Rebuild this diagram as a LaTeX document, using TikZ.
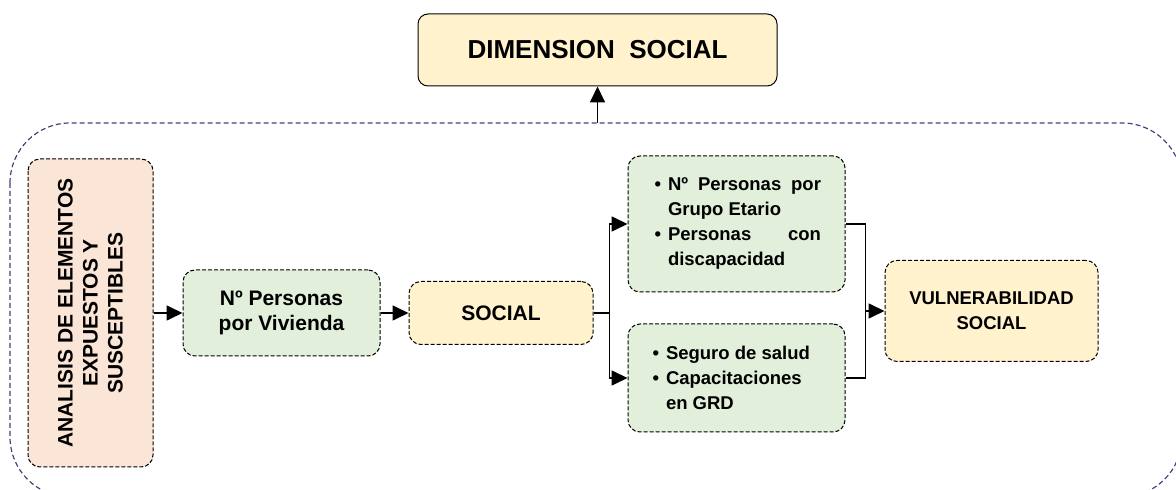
\documentclass[tikz,border=0pt]{standalone}
\usepackage{fontspec}
\setmainfont{Liberation Sans}
\usepackage{tikz}
\usetikzlibrary{positioning, arrows.meta}
\definecolor{boxgreen}{HTML}{E2EFDA}
\definecolor{boxyellow}{HTML}{FFF2CC}
\definecolor{boxsalmon}{HTML}{FBE5D6}
\definecolor{framenavy}{HTML}{44447A}
\newcommand{\itembul}{\leavevmode\llap{\textbullet\hspace{3.5pt}}}

\begin{document}
\begin{tikzpicture}[
	box/.style={rectangle, rounded corners=6pt, draw=black, line width=0.5pt, dash pattern=on 2pt off 1pt, inner sep=0pt, align=center, font=\fontsize{10.5}{12.5}\selectfont\bfseries},
	greenbox/.style={box, fill=boxgreen},
	yellowbox/.style={box, fill=boxyellow},
	listbox/.style={greenbox, minimum width=108.5pt, font=\fontsize{9.25}{12.5}\selectfont\bfseries},
	conn/.style={line width=0.85pt},
	arr/.style={conn, -{Triangle[length=8pt, width=7.5pt]}}]
	\useasboundingbox (0,0) rectangle (588pt,-245pt);
	\coordinate (frameNW) at (5pt,-61.5pt);
	\coordinate (frameSE) at (591pt,-248.5pt);
	\begin{scope}
		\clip (0,0) rectangle (588pt,-245pt);
		\draw[framenavy, line width=0.6pt, dash pattern=on 2.5pt off 1.5pt, rounded corners=30pt] (frameNW) rectangle (frameSE);
	\end{scope}
	\node[box, solid, fill=boxyellow, rounded corners=5pt, minimum width=179.5pt, minimum height=36pt, font=\fontsize{13}{15}\selectfont\bfseries] (dimension) at (298.75pt,-25pt) {DIMENSION\ \ SOCIAL};
	\node[box, fill=boxsalmon, rotate=90, minimum width=154pt, minimum height=62.5pt] (analisis) at (45.25pt,-156.5pt) {ANALISIS DE ELEMENTOS\\EXPUESTOS Y\\SUSCEPTIBLES};
	\node[greenbox, minimum width=98.5pt, minimum height=43pt, right=14.5pt of analisis.south] (vivienda) {Nº Personas\\por Vivienda};
	\node[yellowbox, minimum width=92pt, minimum height=31.5pt, right=14pt of vivienda] (social) {SOCIAL};
	\node[listbox, minimum height=68pt, right=17pt of social, yshift=44.5pt] (grupos) {\begin{minipage}{84.5pt}\leftskip=8pt
		\itembul Nº Personas por\linebreak Grupo Etario\par
		\itembul Personas con\linebreak discapacidad\end{minipage}};
	\node[listbox, minimum height=54pt, right=17pt of social, yshift=-32.5pt] (servicios) {\begin{minipage}{84.5pt}\leftskip=7pt\rightskip=0pt plus 1fil
		\itembul Seguro de salud\par
		\itembul Capacitaciones\newline en GRD\end{minipage}};
	\node[yellowbox, minimum width=106.5pt, minimum height=50.5pt, font=\fontsize{9.25}{12.5}\selectfont\bfseries, right=19.5pt of grupos.east, yshift=-43.5pt] (vulnerabilidad) {VULNERABILIDAD\\SOCIAL};
	\draw[arr] (analisis.south) -- (vivienda.west);
	\draw[arr] (vivienda) -- (social);
	\coordinate[right=8pt of social.east] (split);
	\draw[conn] (social) -- (split);
	\draw[arr] (split) |- (grupos);
	\draw[arr] (split) |- (servicios);
	\coordinate[right=10pt of grupos.east] (join);
	\draw[conn] (grupos) -- (join) |- (servicios);
	\draw[arr] (join |- vulnerabilidad) -- (vulnerabilidad);
	\coordinate (frameTop) at (dimension.south |- frameNW);
	\draw[arr] (frameTop) -- (dimension);
\end{tikzpicture}
\end{document}
